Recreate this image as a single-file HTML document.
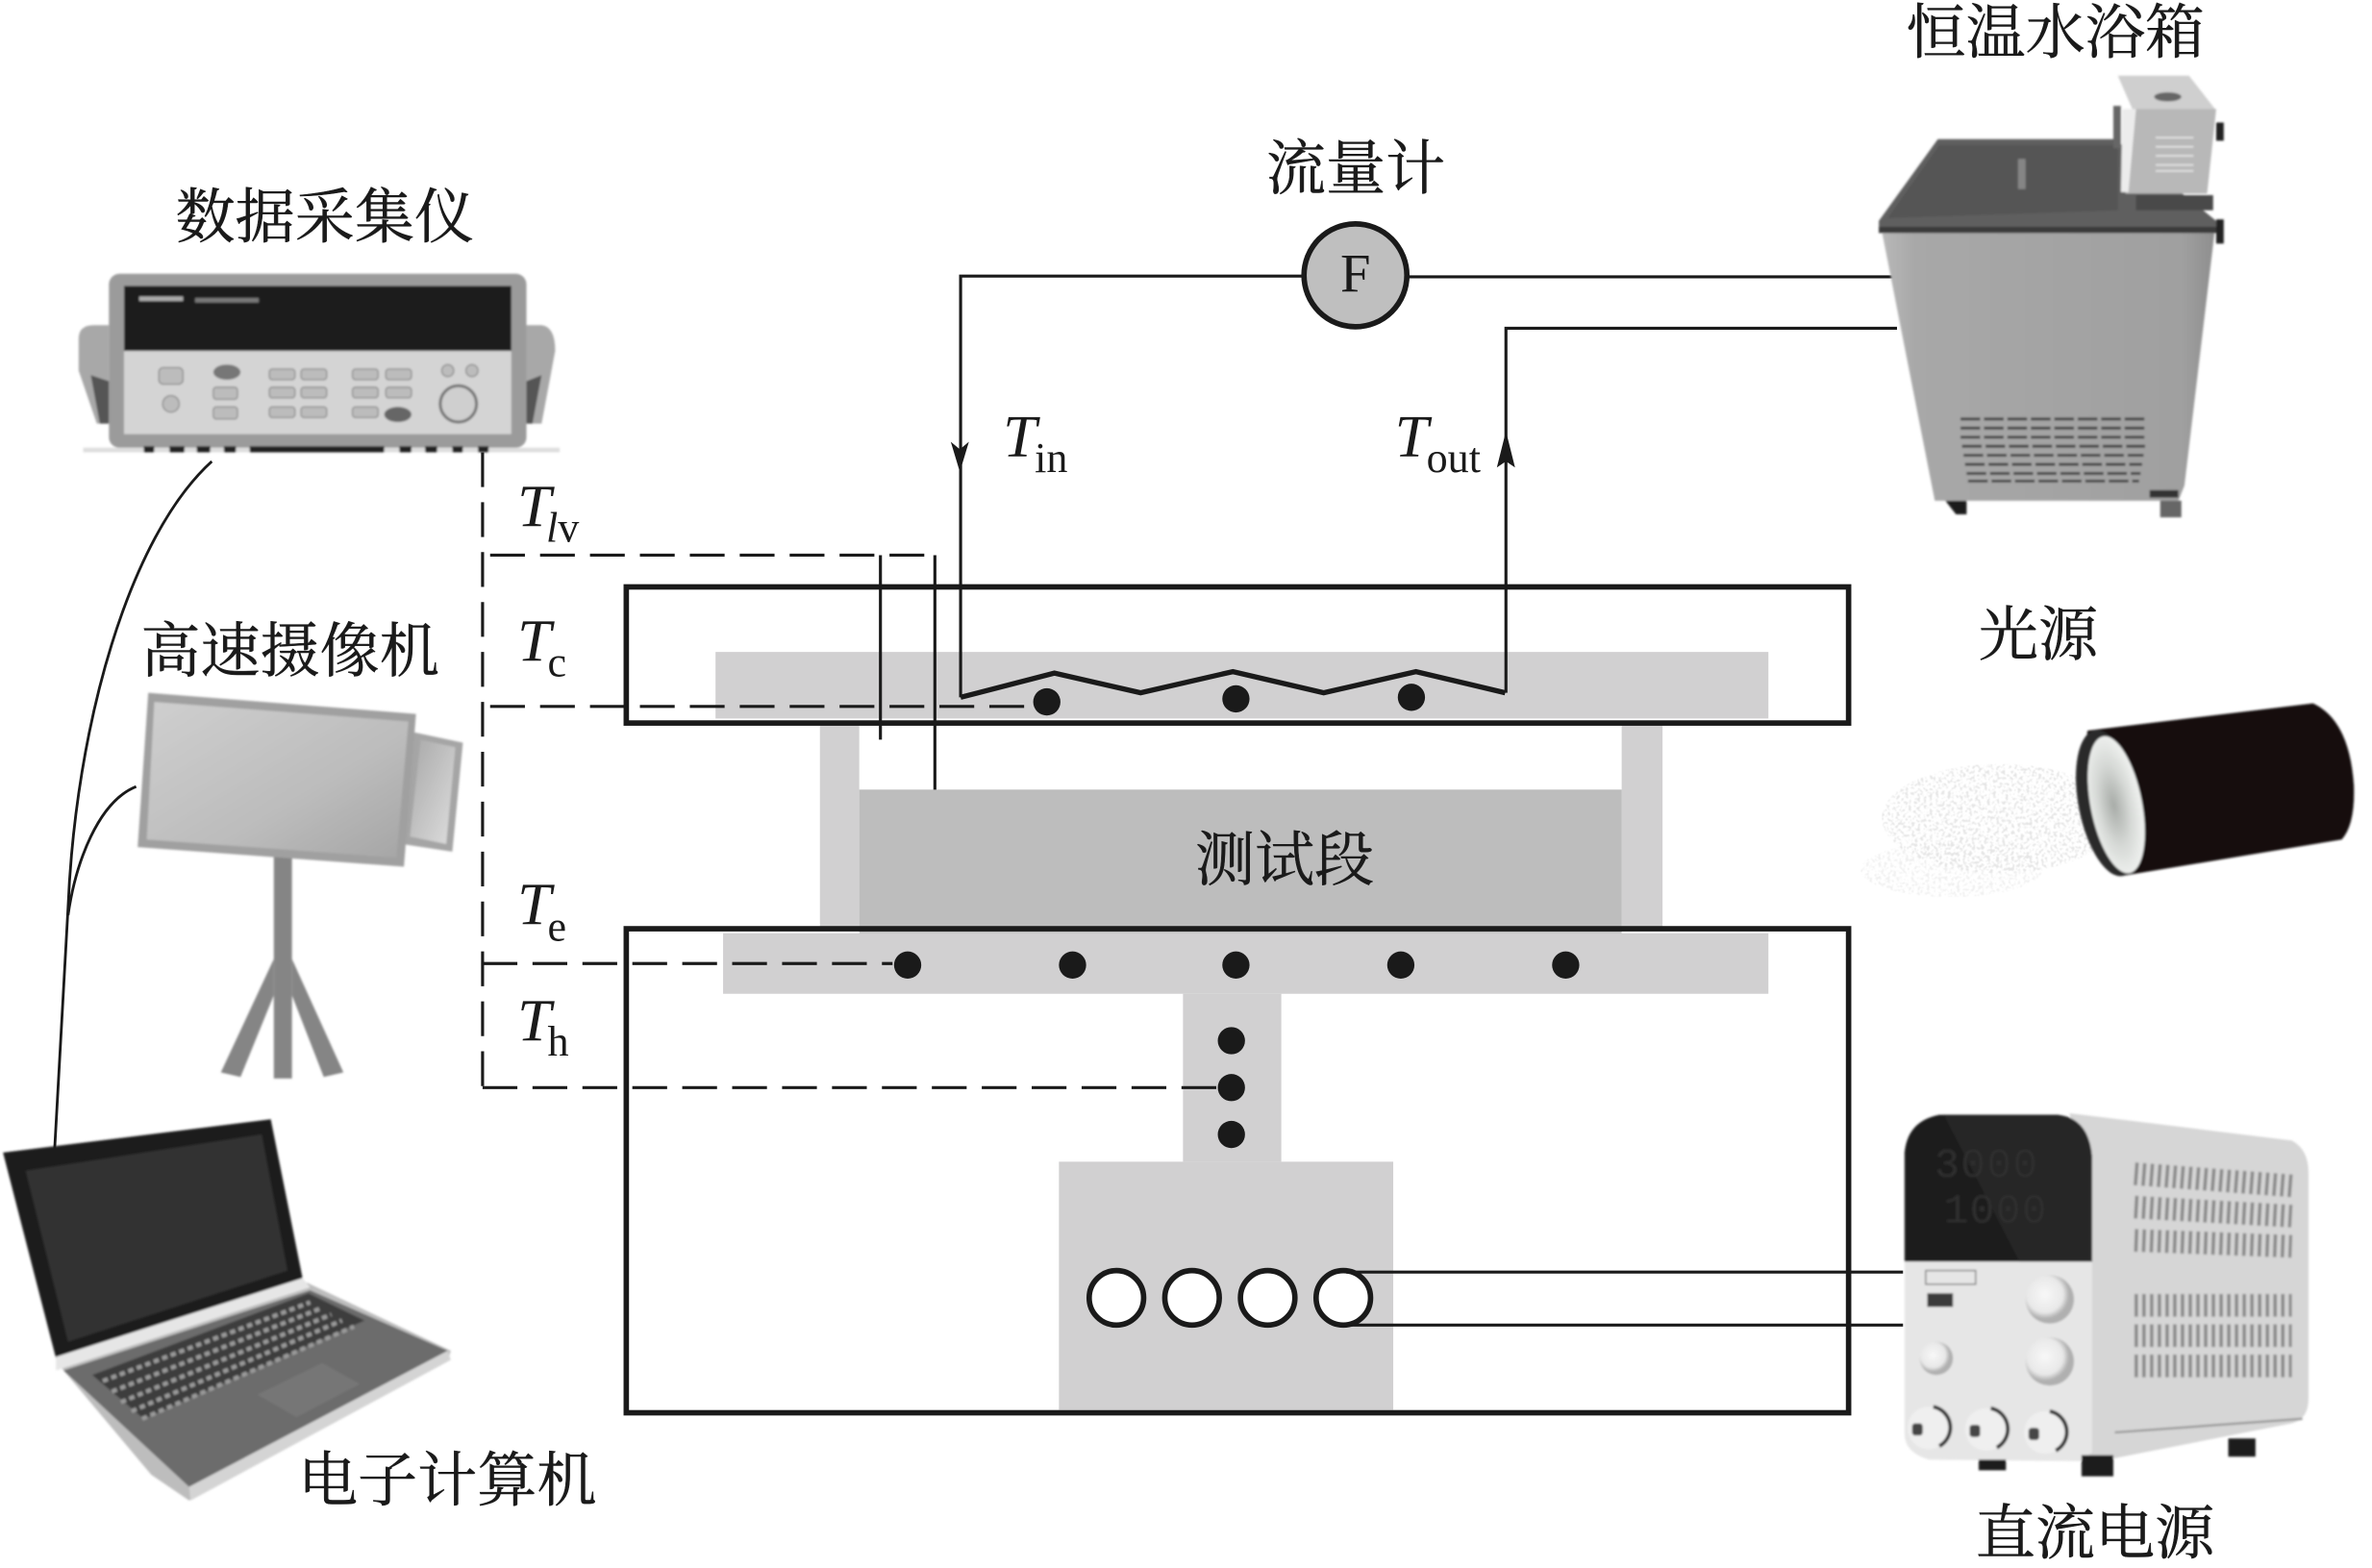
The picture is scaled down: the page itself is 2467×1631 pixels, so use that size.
<!DOCTYPE html>
<html><head><meta charset="utf-8"><style>html,body{margin:0;padding:0;background:#fff}svg{display:block}
.c{font-family:"Liberation Serif","Noto Serif CJK SC",serif;font-size:39.5px;fill:#1a1a1a;stroke:#1a1a1a;stroke-width:.3}
.t{font-family:"Liberation Serif",serif;font-style:italic;font-size:40px;fill:#1a1a1a}
.s{font-family:"Liberation Serif",serif;font-size:28px;fill:#1a1a1a}
</style></head><body>
<svg width="2467" height="1631" viewBox="0 0 1568 1036.6" xmlns="http://www.w3.org/2000/svg">
<defs>
<filter id="b"><feGaussianBlur stdDeviation=".7"/></filter>
<filter id="sp" x="0" y="0" width="100%" height="100%"><feTurbulence type="fractalNoise" baseFrequency=".5" numOctaves="2" seed="4" result="n"/><feColorMatrix in="n" type="matrix" values="0 0 0 0 .72 0 0 0 0 .72 0 0 0 0 .72 6 0 0 0 -3" result="d"/><feComposite in="d" in2="SourceGraphic" operator="in"/><feGaussianBlur stdDeviation=".35"/></filter>
<linearGradient id="cam" x1="0" y1="0" x2="1" y2="1"><stop offset="0" stop-color="#cfcfcf"/><stop offset=".6" stop-color="#bcbcbc"/><stop offset="1" stop-color="#a5a5a5"/></linearGradient>
<linearGradient id="lens" x1="0" y1="0" x2="1" y2="1"><stop offset="0" stop-color="#a8a8a8"/><stop offset="1" stop-color="#dedede"/></linearGradient>
<linearGradient id="bath" x1="0" y1="0" x2="1" y2="0"><stop offset="0" stop-color="#b8b8b8"/><stop offset=".1" stop-color="#a8a8a8"/><stop offset=".9" stop-color="#a0a0a0"/><stop offset="1" stop-color="#8e8e8e"/></linearGradient>
<radialGradient id="spr"><stop offset="0" stop-color="#fff"/><stop offset=".6" stop-color="#999"/><stop offset="1" stop-color="#000"/></radialGradient>
<radialGradient id="lf" cx=".45" cy=".5"><stop offset="0" stop-color="#a8aca8"/><stop offset=".6" stop-color="#d6d9d6"/><stop offset="1" stop-color="#eceeec"/></radialGradient>
<radialGradient id="knob" cx=".4" cy=".4"><stop offset="0" stop-color="#f8f8f8"/><stop offset=".75" stop-color="#e8e8e8"/><stop offset="1" stop-color="#b0b0b0"/></radialGradient>
</defs>
<rect width="1568" height="1037" fill="#fff"/>

<!-- gray structure -->
<rect x="473" y="431" width="696" height="44" fill="#d1d0d1"/>
<rect x="542" y="478" width="26" height="136" fill="#d1d0d1"/>
<rect x="1072" y="478" width="27" height="136" fill="#d1d0d1"/>
<rect x="568" y="522" width="504" height="95" fill="#bdbdbd"/>
<rect x="478" y="617" width="691" height="40" fill="#d1d0d1"/>
<rect x="782" y="657" width="65" height="111" fill="#d1d0d1"/>
<rect x="700" y="768" width="221" height="164" fill="#d1d0d1"/>
<rect x="414" y="388" width="808" height="90" fill="none" stroke="#1a1a1a" stroke-width="3.6"/>
<rect x="414" y="614" width="808" height="320" fill="none" stroke="#1a1a1a" stroke-width="3.6"/>

<!-- dots -->
<g fill="#1a1a1a">
<circle cx="692" cy="464" r="9"/><circle cx="817" cy="462" r="9"/><circle cx="933" cy="461" r="9"/>
<circle cx="600" cy="638" r="9"/><circle cx="709" cy="638" r="9"/><circle cx="817" cy="638" r="9"/><circle cx="926" cy="638" r="9"/><circle cx="1035" cy="638" r="9"/>
<circle cx="814" cy="688" r="9"/><circle cx="814" cy="719" r="9"/><circle cx="814" cy="750" r="9"/>
</g>
<g fill="#fff" stroke="#1a1a1a" stroke-width="3.6">
<circle cx="738" cy="858" r="18"/><circle cx="788" cy="858" r="18"/><circle cx="838" cy="858" r="18"/><circle cx="888" cy="858" r="18"/>
</g>
<path d="M890 841H1258M890 876H1258" stroke="#1a1a1a" stroke-width="2" fill="none"/>

<!-- pipes -->
<path d="M861 182.500H635V461" stroke="#1a1a1a" stroke-width="2" fill="none"/>
<path d="M635 461L697 445L754 458L815 444L875 458L936 444L995 458" stroke="#1a1a1a" stroke-width="3.4" fill="none"/>
<path d="M995.500 458V217H1254M931 183H1254" stroke="#1a1a1a" stroke-width="2" fill="none"/>
<path d="M628.500 292L634.500 312L640.500 292L634.500 297Z" fill="#1a1a1a"/>
<path d="M989.500 309L995.500 285L1001.500 309L995.500 305Z" fill="#1a1a1a"/>
<circle cx="896" cy="182" r="34" fill="#bfbfbf" stroke="#1a1a1a" stroke-width="3.6"/>
<text x="896" y="193" text-anchor="middle" font-family="Liberation Serif, serif" font-size="36" fill="#1a1a1a">F</text>

<!-- dashed -->
<g stroke="#1a1a1a" stroke-width="2" fill="none">
<path d="M319 299V719" stroke-dasharray="23 10"/>
<path d="M319 367H618" stroke-dasharray="23 10" stroke-dashoffset="-5"/>
<path d="M319 467H682" stroke-dasharray="23 10" stroke-dashoffset="-5"/>
<path d="M319 637H590" stroke-dasharray="23 10"/>
<path d="M319 719H806" stroke-dasharray="23 10"/>
<path d="M618 367V522M582 367V489"/>
</g>

<!-- wires -->
<path d="M36 762L45 600C50 480 85 355 140 305M45 605C50 570 65 530 90 520" stroke="#1a1a1a" stroke-width="1.8" fill="none"/>

<!-- labels -->
<text class="c" x="116" y="157">数据采集仪</text>
<text class="c" x="93" y="444">高速摄像机</text>
<text class="c" x="1260" y="35">恒温水浴箱</text>
<text class="c" x="837" y="125">流量计</text>
<text class="c" x="1308" y="433">光源</text>
<text class="c" x="197" y="992">电子计算机</text>
<text class="c" x="1306" y="1027">直流电源</text>
<text class="c" x="790" y="582">测试段</text>
<text class="t" x="342" y="348">T</text><text class="s" x="361" y="358"><tspan font-style="italic">l</tspan>v</text>
<text class="t" x="342" y="437">T</text><text class="s" x="362" y="447">c</text>
<text class="t" x="342" y="611">T</text><text class="s" x="362" y="622">e</text>
<text class="t" x="342" y="688">T</text><text class="s" x="362" y="698">h</text>
<text class="t" x="663" y="302">T</text><text class="s" x="684" y="312">in</text>
<text class="t" x="922" y="302">T</text><text class="s" x="943" y="312">out</text>

<!-- DAQ -->
<g filter="url(#b)">
<path d="M52 224Q52 215 62 215H72V280H64L52 245Z" fill="#a8a8a8"/>
<path d="M348 215H358Q367 216 367 232L358 280H348Z" fill="#a8a8a8"/>
<path d="M60 248L72 252V280H66Z" fill="#555"/><path d="M358 248L348 252V280H352Z" fill="#555"/>
<rect x="72" y="181" width="276" height="115" rx="7" fill="#9b9b9b"/>
<rect x="82" y="189" width="256" height="43" fill="#1d1d1d"/>
<rect x="82" y="232" width="256" height="55" fill="#d4d4d4"/>
<rect x="55" y="296" width="315" height="3" fill="#dedede"/>
<g fill="#222"><rect x="95" y="295" width="7" height="4"/><rect x="112" y="295" width="10" height="4"/><rect x="130" y="295" width="9" height="4"/><rect x="148" y="295" width="8" height="4"/><rect x="165" y="295" width="89" height="4"/><rect x="264" y="295" width="8" height="4"/><rect x="281" y="295" width="8" height="4"/><rect x="299" y="295" width="7" height="4"/><rect x="316" y="295" width="7" height="4"/></g>
<rect x="92" y="196" width="29" height="3" fill="#aaa"/><rect x="129" y="197" width="42" height="3" fill="#777"/>
<g fill="#bcbcbc" stroke="#8a8a8a" stroke-width=".8">
<rect x="105" y="243" width="16" height="11" rx="3"/><circle cx="113" cy="267" r="5.500"/>
<rect x="141" y="256" width="16" height="8" rx="2"/><rect x="141" y="269" width="16" height="8" rx="2"/>
<rect x="178" y="244" width="17" height="7" rx="2"/><rect x="199" y="244" width="17" height="7" rx="2"/>
<rect x="178" y="256" width="17" height="7" rx="2"/><rect x="199" y="256" width="17" height="7" rx="2"/>
<rect x="178" y="269" width="17" height="7" rx="2"/><rect x="199" y="269" width="17" height="7" rx="2"/>
<rect x="233" y="244" width="17" height="7" rx="2"/><rect x="255" y="244" width="17" height="7" rx="2"/>
<rect x="233" y="256" width="17" height="7" rx="2"/><rect x="255" y="256" width="17" height="7" rx="2"/>
<rect x="233" y="269" width="17" height="7" rx="2"/>
<circle cx="296" cy="245" r="4"/><circle cx="312" cy="245" r="4"/>
</g>
<ellipse cx="150" cy="246" rx="9" ry="5" fill="#777"/><ellipse cx="263" cy="274" rx="9" ry="5" fill="#666"/>
<circle cx="303" cy="267" r="12" fill="#cfcfcf" stroke="#777" stroke-width="2"/>
</g>

<!-- camera -->
<g filter="url(#b)">
<rect x="181" y="560" width="12" height="153" fill="#858585"/>
<path d="M181 634L146 709L159 712L181 658Z" fill="#858585"/>
<path d="M193 634L227 709L214 712L193 658Z" fill="#858585"/>
<path d="M273 484L306 491L299 563L266 558Z" fill="#a5a5a5"/><path d="M278 489L301 494L295 558L271 553Z" fill="url(#lens)"/>
<path d="M98 458L275 472L267 573L91 560Z" fill="#a0a0a0"/>
<path d="M102 464L270 477L262 567L97 555Z" fill="url(#cam)"/>
</g>

<!-- laptop -->
<g filter="url(#b)">
<path d="M37 900L203 848L298 893L296 900L125 992L100 975Z" fill="#bdbdbd"/>
<path d="M2 762L179 740L200 845L37 898Z" fill="#1f1f1f"/>
<path d="M17 774L173 750L190 840L45 887Z" fill="#333"/>
<path d="M37 897L200 845L205 851L37 906Z" fill="#e6e6e6"/>
<path d="M42 906L205 853L296 893L125 983Z" fill="#6c6c6c"/>
<path d="M61 909L204 855L241 873L95 938Z" fill="#3c3c3c"/>
<g stroke="#9a9a9a" stroke-width="2.800" stroke-dasharray="3.500 2.500" fill="none">
<path d="M68 913L205 861"/><path d="M74 920L212 865"/><path d="M80 927L219 869"/><path d="M87 933L226 873"/><path d="M94 938L234 877"/>
</g>
<path d="M170 922L213 901L238 915L196 937Z" fill="#767676"/>
<path d="M125 983L296 893L298 899L126 992Z" fill="#d4d4d4"/>
</g>

<!-- bath -->
<g filter="url(#b)">
<path d="M1244 153H1464L1444 321L1440 331H1279Z" fill="url(#bath)"/>
<path d="M1281 92H1398L1465 146V153H1242V146Z" fill="#5e5e5e"/>
<path d="M1242 150H1465V154H1242Z" fill="#3a3a3a"/>
<path d="M1282 96H1400L1400 139L1248 144Z" fill="#555"/>
<rect x="1334" y="105" width="5" height="20" fill="#858585"/>
<path d="M1400 50H1447L1465 73H1410Z" fill="#cfcfcf"/>
<path d="M1410 72H1465L1459 128H1405Z" fill="#b8b8b8"/>
<path d="M1403 72H1412L1407 127H1402Z" fill="#ececec"/>
<path d="M1397 70H1402V98H1397Z" fill="#666"/>
<ellipse cx="1433" cy="64" rx="9" ry="3" fill="#666"/>
<rect x="1465" y="81" width="5" height="12" fill="#222"/>
<g stroke="#e6e6e6" stroke-width="1"><path d="M1425 91H1450M1425 97H1450M1425 103H1450M1425 109H1450M1425 113H1450"/></g>
<rect x="1412" y="129" width="51" height="10" fill="#4a4a4a"/>
<g stroke="#3c3c3c" stroke-width="1.800" stroke-dasharray="13 2.500">
<path d="M1296 277H1418M1296 283H1418M1296 289H1418M1297 295H1418M1298 301H1417M1299 307H1416M1300 313H1415M1301 318H1414"/>
</g>
<path d="M1286 331H1300V340H1293Z" fill="#1c1c1c"/>
<rect x="1421" y="324" width="19" height="5" fill="#333"/><rect x="1428" y="331" width="14" height="11" fill="#666"/>
<rect x="1465" y="145" width="5" height="16" fill="#222"/>
</g>

<!-- light -->
<g opacity=".75">
<ellipse cx="1322" cy="541" rx="78" ry="36" fill="url(#spr)" filter="url(#sp)"/>
<ellipse cx="1290" cy="575" rx="60" ry="18" fill="url(#spr)" opacity=".6" filter="url(#sp)"/>
</g>
<g filter="url(#b)">
<path d="M1380 483L1529 465Q1553 476 1556 519Q1557 545 1548 555L1403 579Q1372 530 1380 483Z" fill="#141110"/>
<ellipse cx="1394" cy="531" rx="20" ry="49" transform="rotate(-11 1394 531)" fill="#2a2a2a"/>
<ellipse cx="1399" cy="532" rx="17" ry="46" transform="rotate(-11 1399 532)" fill="url(#lf)"/>
</g>

<!-- PSU -->
<g filter="url(#b)">
<path d="M1368 736L1515 754Q1526 760 1526 775V925Q1526 938 1515 941L1398 964L1378 967L1383 800Z" fill="#d6d6d6"/>
<path d="M1259 834H1383V960L1375 966L1275 965Q1259 960 1259 948Z" fill="#e6e6e6"/>
<path d="M1259 834V762Q1261 741 1282 737H1360Q1381 739 1383 765V834Z" fill="#1d1d1d"/>
<path d="M1285 737H1360Q1381 739 1383 765V834H1335Z" fill="#262626"/>
<text x="1279" y="778" font-family="Liberation Mono,monospace" font-size="27" fill="#2f2f2f" letter-spacing="1">3000</text>
<text x="1285" y="808" font-family="Liberation Mono,monospace" font-size="27" fill="#2f2f2f" letter-spacing="1">1000</text>
<g stroke="#8a8a8a" stroke-width="15" stroke-dasharray="2.300 2.800" fill="none">
<path d="M1411 776L1515 784"/><path d="M1411 798L1515 804"/><path d="M1411 820L1515 824"/>
<path d="M1411 863L1515 863"/><path d="M1411 883L1515 883"/><path d="M1411 903L1515 903"/>
</g>
<rect x="1274" y="855" width="17" height="9" fill="#3b3b3b"/>
<rect x="1273" y="840" width="33" height="9" fill="none" stroke="#888" stroke-width="1"/>
<circle cx="1355" cy="859" r="16" fill="url(#knob)"/><circle cx="1355" cy="900" r="16" fill="url(#knob)"/><circle cx="1280" cy="898" r="11" fill="url(#knob)"/>
<g fill="#efefef"><circle cx="1275" cy="944" r="14"/><circle cx="1313" cy="945" r="14"/><circle cx="1352" cy="947" r="14"/></g>
<g fill="none" stroke="#333" stroke-width="2.500">
<path d="M1278 930A14 14 0 0 1 1282 956"/><path d="M1316 931A14 14 0 0 1 1320 957"/><path d="M1355 933A14 14 0 0 1 1359 959"/>
</g>
<g fill="#444"><rect x="1264" y="941" width="7" height="8" rx="2"/><rect x="1302" y="942" width="7" height="8" rx="2"/><rect x="1341" y="944" width="7" height="8" rx="2"/></g>
<path d="M1398 947L1522 938" stroke="#9a9a9a" stroke-width="1.500"/>
<g fill="#1a1a1a"><rect x="1308" y="965" width="18" height="7"/><rect x="1376" y="962" width="21" height="14"/><rect x="1473" y="951" width="18" height="12"/></g>
</g>
</svg>
</body></html>
